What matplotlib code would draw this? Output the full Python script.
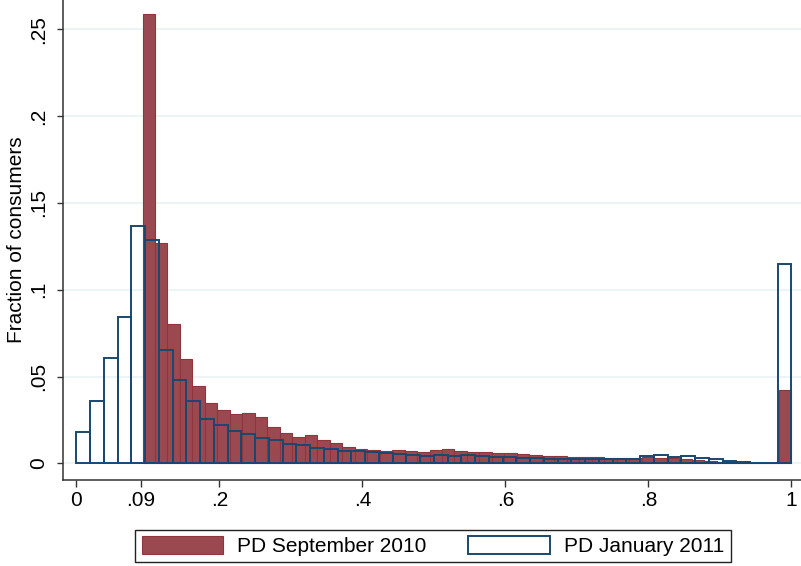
import numpy as np
import matplotlib
matplotlib.use("Agg")
import matplotlib.pyplot as plt
from matplotlib.patches import Patch

# fraction of consumers per bin (52 bins each)
sep2010_lo, sep2010_hi = 0.0925, 1.0
sep2010 = [0.259, 0.127, 0.080, 0.060, 0.0447, 0.0346, 0.0309, 0.0284, 0.0290, 0.0265,
           0.0211, 0.0172, 0.0150, 0.0161, 0.0136, 0.0119, 0.0096, 0.0084, 0.0078, 0.0071,
           0.0075, 0.0069, 0.0067, 0.0076, 0.0081, 0.0073, 0.0065, 0.0063, 0.0058, 0.0058,
           0.0054, 0.0048, 0.0042, 0.0042, 0.0036, 0.0035, 0.0034, 0.0033, 0.0033, 0.0032,
           0.0035, 0.0033, 0.0030, 0.0027, 0.0018, 0.0013, 0.0010, 0.0008, 0.0003, 0.0001,
           0.0, 0.042]

jan2011_lo, jan2011_hi = 0.0, 1.0
jan2011 = [0.0179, 0.0359, 0.0608, 0.0845, 0.137, 0.1285, 0.0651, 0.048, 0.0359, 0.0255,
           0.0219, 0.0188, 0.0171, 0.0148, 0.0136, 0.0113, 0.0104, 0.0090, 0.0081, 0.0071,
           0.0069, 0.0063, 0.0058, 0.0054, 0.0050, 0.0044, 0.0046, 0.0044, 0.0048, 0.0042,
           0.0038, 0.0038, 0.0032, 0.0030, 0.0025, 0.0025, 0.0027, 0.0026, 0.0026, 0.0026,
           0.0026, 0.0042, 0.0046, 0.0038, 0.0041, 0.0029, 0.0023, 0.0014, 0.0005, 0.0002,
           0.0, 0.1148]

xticks = [0, 0.09, 0.2, 0.4, 0.6, 0.8, 1]
xticklabels = ["0", ".09", ".2", ".4", ".6", ".8", "1"]
yticks = [0, 0.05, 0.1, 0.15, 0.2, 0.25]
yticklabels = ["0", ".05", ".1", ".15", ".2", ".25"]

maroon_fill = "#9B4950"
maroon_edge = "#90353B"
navy = "#1A476F"

plt.rcParams["font.family"] = ["Liberation Sans", "DejaVu Sans"]
fs = 15

fig = plt.figure(figsize=(8.01, 5.66), dpi=100)
ax = fig.add_axes([63 / 801, 86 / 566, 738 / 801, 480 / 566])

def edges(lo, hi, n):
    return np.linspace(lo, hi, n + 1)

e_sep = edges(sep2010_lo, sep2010_hi, len(sep2010))
ax.bar(e_sep[:-1], sep2010, width=np.diff(e_sep), align="edge",
       color=maroon_fill, edgecolor=maroon_edge, linewidth=0.8, zorder=2)

e_jan = edges(jan2011_lo, jan2011_hi, len(jan2011))
ax.bar(e_jan[:-1], jan2011, width=np.diff(e_jan), align="edge",
       facecolor="none", edgecolor=navy, linewidth=1.4, zorder=3)

ax.set_xlim(-0.0187, 1.0134)
ax.set_ylim(-0.0096, 0.2669)

ax.set_yticks(yticks)
ax.set_yticklabels(yticklabels, fontsize=fs)
for lab in ax.get_yticklabels():
    lab.set_rotation(90)
    lab.set_va("center")
ax.set_xticks(xticks)
ax.set_xticklabels(xticklabels, fontsize=fs)

ax.grid(axis="y", color="#EAF2F3", linewidth=1.2, zorder=0)
ax.set_axisbelow(True)

for s in ["top", "right"]:
    ax.spines[s].set_visible(False)
for s in ["left", "bottom"]:
    ax.spines[s].set_color("#333333")
    ax.spines[s].set_linewidth(1.1)
ax.tick_params(axis="y", length=4, width=1, color="#333333", pad=7)
ax.tick_params(axis="x", length=5, width=1, color="#333333", pad=3)

ax.set_ylabel("Fraction of consumers", fontsize=fs)
ax.yaxis.set_label_coords(-0.05, 0.5)

handles = [Patch(facecolor=maroon_fill, edgecolor=maroon_edge, linewidth=0.8),
           Patch(facecolor="white", edgecolor=navy, linewidth=1.4)]
fig.legend(handles, ["PD September 2010", "PD January 2011"], ncol=2,
           loc="center", bbox_to_anchor=(433 / 801, 20 / 566), fontsize=fs,
           frameon=True, fancybox=False, edgecolor="#222222", framealpha=1,
           handlelength=3.9, handleheight=1.0, handletextpad=0.7,
           columnspacing=2.0, borderpad=0.3)

fig.savefig("out.png", dpi=100)
